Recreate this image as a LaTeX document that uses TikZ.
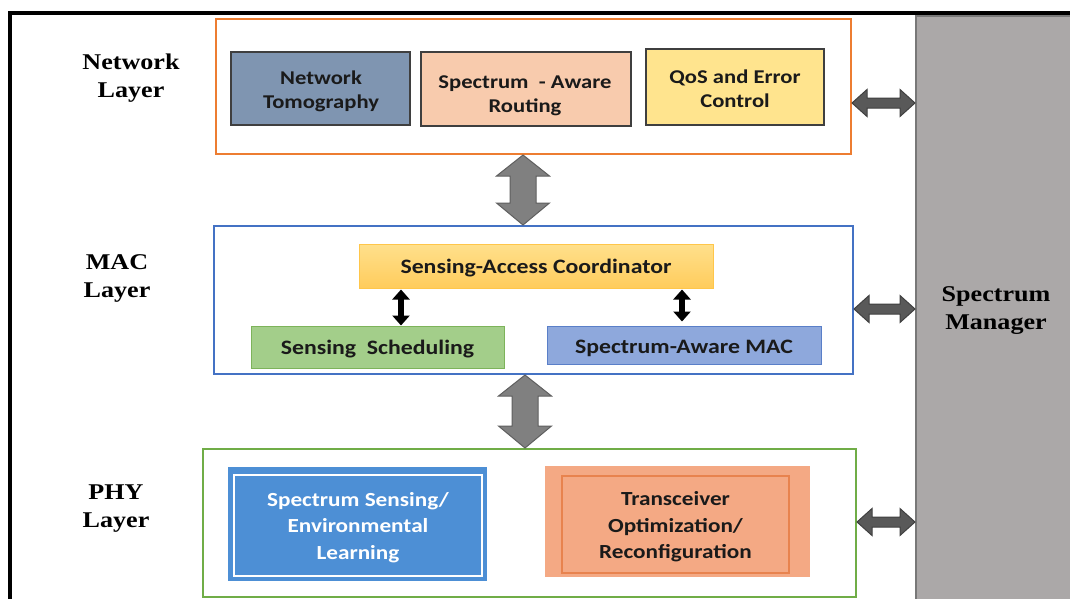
\documentclass[tikz,border=0pt]{standalone}
\usepackage{fontspec}
\setmainfont[FakeStretch=1.16]{Liberation Serif}
\newfontfamily\boxfont[FakeStretch=1.16]{Carlito}
\usetikzlibrary{arrows.meta,calc}
\definecolor{netorange}{HTML}{ED7D31}
\definecolor{macblue}{HTML}{4472C4}
\definecolor{phygreen}{HTML}{70AD47}
\definecolor{ntfill}{HTML}{7F95B1}
\definecolor{sarfill}{HTML}{F8CBAD}
\definecolor{qosfill}{HTML}{FFE48E}
\definecolor{sactop}{HTML}{FFE08C}
\definecolor{sacbot}{HTML}{FFCC5C}
\definecolor{sacline}{HTML}{FFC64A}
\definecolor{ssfill}{HTML}{A3CE8A}
\definecolor{ssline}{HTML}{7DB35A}
\definecolor{samacfill}{HTML}{8EA8DC}
\definecolor{samacline}{HTML}{5A7FC8}
\definecolor{sensfill}{HTML}{4D8FD5}
\definecolor{trxfill}{HTML}{F4A984}
\definecolor{trxline}{HTML}{E8834E}
\definecolor{smfill}{HTML}{ABA8A8}
\definecolor{smline}{HTML}{787878}
\definecolor{bigfill}{HTML}{808080}
\definecolor{bigline}{HTML}{5F5F5F}
\definecolor{hfill}{HTML}{595959}
\definecolor{hline}{HTML}{404040}
\definecolor{boxline}{HTML}{3F3F3F}
\definecolor{txt}{HTML}{1A1A1A}

\newcommand\vbigarrow[2]{%
  \draw[bigarr] let \p1=(#1), \p2=(#2) in
    (\x1,\y1) -- (\x1+26.5pt,\y1-21pt) -- (\x1+13pt,\y1-21pt) -- (\x1+13pt,\y2+22pt)
    -- (\x1+26.5pt,\y2+22pt) -- (\x1,\y2) -- (\x1-26.5pt,\y2+22pt) -- (\x1-13pt,\y2+22pt)
    -- (\x1-13pt,\y1-21pt) -- (\x1-26.5pt,\y1-21pt) -- cycle;}
\newcommand\hbigarrow[2]{%
  \draw[harr] let \p1=(#1), \p2=(#2) in
    (\x1,\y1) -- (\x1+15pt,\y1+13.5pt) -- (\x1+15pt,\y1+5pt) -- (\x2-15pt,\y1+5pt)
    -- (\x2-15pt,\y1+13.5pt) -- (\x2,\y1) -- (\x2-15pt,\y1-13.5pt) -- (\x2-15pt,\y1-5pt)
    -- (\x1+15pt,\y1-5pt) -- (\x1+15pt,\y1-13.5pt) -- cycle;}

\begin{document}
\begin{tikzpicture}[x=1pt,y=-1pt,
  layerbox/.style={draw, line width=2pt, inner sep=0pt, anchor=center},
  box/.style={inner sep=0pt, anchor=center, align=center, text=txt,
    font=\boxfont\bfseries\fontsize{19.5}{24}\selectfont},
  macbox/.style={box, font=\boxfont\bfseries\fontsize{20.5}{24}\selectfont},
  netbox/.style={box, draw=boxline, line width=1.3pt},
  lbl/.style={align=center, text=black, font=\bfseries\fontsize{22.5}{28}\selectfont},
  bigarr/.style={fill=bigfill, draw=bigline, line width=1pt},
  harr/.style={fill=hfill, draw=hline, line width=1pt},
  smallarr/.style={draw=black, line width=6pt, {Triangle[width=17pt,length=10pt]}-{Triangle[width=17pt,length=10pt]}}
]
\useasboundingbox (0,0) rectangle (1070,598);
\fill[white] (0,0) rectangle (1070,598);

% Spectrum manager
\node[draw=smline, fill=smfill, line width=2pt, inner sep=0pt, minimum width=160pt, minimum height=590pt,
      lbl] (sm) at (996,311) {Spectrum\\Manager};

% frame
\draw[line width=3.5pt, black] (8,13) -- (1075,13);
\draw[line width=4pt, black] (10,11) -- (10,605);

% layer boxes
\node[layerbox, draw=netorange, minimum width=635pt, minimum height=135pt] (net) at (533.5,86.5) {};
\node[layerbox, draw=macblue, minimum width=639pt, minimum height=148pt] (mac) at (533.5,300) {};
\node[layerbox, draw=phygreen, minimum width=653pt, minimum height=148pt] (phy) at (529.5,523) {};

% layer labels
\node[lbl] (lnet) at (131,78) {Network\\Layer};
\node[lbl] (lmac) at (117,278) {MAC\\Layer};
\node[lbl] (lphy) at (116,509) {PHY\\Layer};

% network layer boxes
\node[netbox, fill=ntfill, minimum width=179pt, minimum height=73pt] (nt) at (320.5,88.5) {};
\node[box] (ntt) at (321,91.5) {Network\\Tomography};
\node[netbox, fill=sarfill, minimum width=210pt, minimum height=74pt] (sar) at (526,89) {};
\node[box] (sart) at (525,96) {Spectrum \ - Aware\\Routing};
\node[netbox, fill=qosfill, minimum width=178pt, minimum height=76pt] (qos) at (735,87) {};
\node[box] (qost) at (735,88.5) {QoS and Error\\Control};

% MAC layer boxes
\node[macbox, draw=sacline, line width=1pt, top color=sactop, bottom color=sacbot,
      minimum width=354pt, minimum height=44pt] (sac) at (536,266) {};
\node[macbox] (sact) at (536,268) {Sensing-Access Coordinator};
\node[macbox, draw=ssline, line width=1pt, fill=ssfill,
      minimum width=253pt, minimum height=42pt] (ss) at (377.5,347) {};
\node[macbox] (sst) at (377.5,349) {Sensing \ Scheduling};
\node[macbox, draw=samacline, line width=1pt, fill=samacfill,
      minimum width=274pt, minimum height=38pt] (samac) at (684,345) {};
\node[macbox] (samact) at (684,348) {Spectrum-Aware MAC};

\coordinate (k1) at (401,0);
\coordinate (k2) at (682,0);
\draw[smallarr] ([yshift=-1pt]sac.south -| k1) -- (ss.north -| k1);
\draw[smallarr] ([yshift=-1pt]sac.south -| k2) -- ([yshift=4pt]samac.north -| k2);

% PHY layer boxes
\node[box, fill=sensfill, draw=sensfill, minimum width=258pt, minimum height=113pt] (sens) at (357,523.5) {};
\draw[white, line width=1.8pt] ([shift={(6pt,-8pt)}]sens.north west) rectangle ([shift={(-4pt,4pt)}]sens.south east);
\node[box, text=white, font=\boxfont\bfseries\fontsize{20}{26.5}\selectfont] (senst) at (358,527.5) {Spectrum Sensing/\\Environmental\\Learning};

\node[box, fill=trxfill, draw=trxfill, minimum width=264pt, minimum height=110pt] (trx) at (677.5,521) {};
\node[box, draw=trxline, line width=1.2pt, minimum width=227pt, minimum height=97pt] (trxin) at (675.5,524.5) {};
\node[box, font=\boxfont\bfseries\fontsize{20}{26.5}\selectfont] (trxt) at (675.5,527) {Transceiver\\Optimization/\\Reconfiguration};

% big vertical arrows
\coordinate (v1) at (523,0);
\coordinate (v2) at (525,0);
\vbigarrow{net.south -| v1}{mac.north -| v1}
\vbigarrow{mac.south -| v2}{phy.north -| v2}

% horizontal arrows to spectrum manager
\coordinate (h1) at (0,103);
\coordinate (h2) at (0,309);
\coordinate (h3) at (0,522);
\hbigarrow{net.east |- h1}{sm.west |- h1}
\hbigarrow{mac.east |- h2}{sm.west |- h2}
\hbigarrow{phy.east |- h3}{sm.west |- h3}
\end{tikzpicture}
\end{document}
